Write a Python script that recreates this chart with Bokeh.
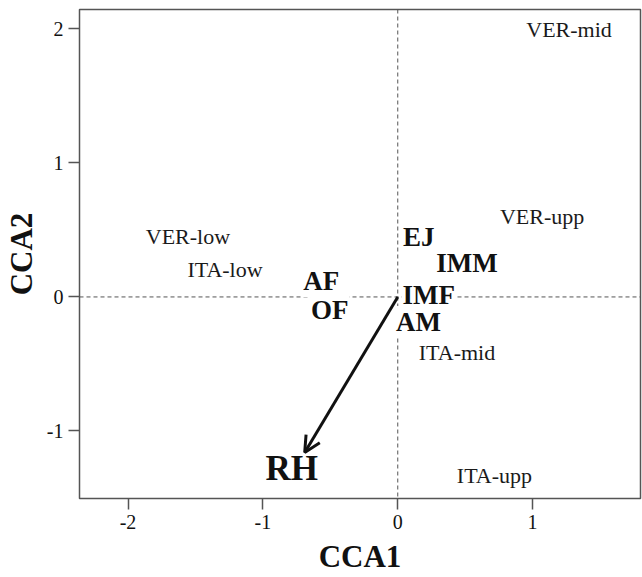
from bokeh.plotting import figure
from bokeh.models import ColumnDataSource, Span, Arrow, OpenHead, FixedTicker, Range1d
from bokeh.core.properties import value
from bokeh.embed import file_html
from bokeh.resources import INLINE

# ---- data ----
sites = ["VER-mid", "VER-upp", "VER-low", "ITA-low", "ITA-mid", "ITA-upp"]
site_x = [1.27, 1.07, -1.556, -1.281, 0.439, 0.717]
site_y = [1.995, 0.60, 0.453, 0.204, -0.418, -1.33]

species = ["EJ", "IMM", "AF", "IMF", "OF", "AM"]
sp_x = [0.156, 0.513, -0.568, 0.23, -0.504, 0.154]
sp_y = [0.448, 0.254, 0.117, 0.013, -0.099, -0.187]

env = ["RH"]
env_x = [-0.69]      # arrow tip
env_y = [-1.16]
env_lab_x = [-0.786]
env_lab_y = [-1.281]

x_ticks = [-2, -1, 0, 1]
x_tick_labels = ["-2", "-1", "0", "1"]
y_ticks = [-1, 0, 1, 2]
y_tick_labels = ["-1", "0", "1", "2"]

FONT = "Liberation Serif"

p = figure(width=642, height=577,
           x_range=Range1d(-2.36, 1.80), y_range=Range1d(-1.504, 2.145),
           output_backend="svg", toolbar_location=None,
           min_border_left=79, min_border_right=2,
           min_border_top=9, min_border_bottom=79)

p.grid.visible = False
p.outline_line_color = "#555555"
p.outline_line_width = 1.5
p.background_fill_color = "white"
p.border_fill_color = "white"

for ax in (p.xaxis, p.yaxis):
    ax.axis_line_color = None
    ax.major_tick_out = 11
    ax.major_tick_in = 0
    ax.minor_tick_line_color = None
    ax.major_tick_line_color = "#555555"
    ax.major_tick_line_width = 1.5
    ax.major_label_text_font = FONT
    ax.major_label_text_font_size = "20px"
    ax.major_label_text_color = "#111111"
    ax.axis_label_text_font = FONT
    ax.axis_label_text_font_size = "31px"
    ax.axis_label_text_font_style = "bold"
    ax.axis_label_text_color = "#111111"

p.xaxis.ticker = FixedTicker(ticks=x_ticks)
p.yaxis.ticker = FixedTicker(ticks=y_ticks)
p.xaxis.major_label_overrides = dict(zip(x_ticks, x_tick_labels))
p.yaxis.major_label_overrides = dict(zip(y_ticks, y_tick_labels))
p.xaxis.axis_label = "CCA1"
p.yaxis.axis_label = "CCA2"
p.xaxis.major_label_standoff = 5
p.yaxis.major_label_standoff = 5
p.xaxis.axis_label_standoff = 7
p.yaxis.axis_label_standoff = 5

# dashed zero lines
p.add_layout(Span(location=0, dimension="width", line_color="#555555",
                  line_width=1, line_dash="4 3", level="underlay"))
p.add_layout(Span(location=0, dimension="height", line_color="#555555",
                  line_width=1, line_dash="4 3", level="underlay"))

site_src = ColumnDataSource(dict(x=site_x, y=site_y, t=sites))
sp_src = ColumnDataSource(dict(x=sp_x, y=sp_y, t=species))
env_src = ColumnDataSource(dict(x=env_lab_x, y=env_lab_y, t=env))

p.text(x="x", y="y", text="t", source=site_src, text_font=value(FONT),
       text_font_size="22px", text_color="#1a1a1a", text_align="center",
       text_baseline="middle", background_fill_color="white", padding=1)
p.text(x="x", y="y", text="t", source=sp_src, text_font=value(FONT),
       text_font_size="27px", text_font_style="bold", text_color="#111111",
       text_align="center", text_baseline="middle",
       background_fill_color="white", padding=1)
p.text(x="x", y="y", text="t", source=env_src, text_font=value(FONT),
       text_font_size="35px", text_font_style="bold", text_color="#111111",
       text_align="center", text_baseline="middle")

arrow_src = ColumnDataSource(dict(x0=[0.0] * len(env_x), y0=[0.0] * len(env_y),
                                  x1=env_x, y1=env_y))
p.add_layout(Arrow(end=OpenHead(size=16, line_width=3, line_color="#111111"),
                   x_start="x0", y_start="y0", x_end="x1", y_end="y1",
                   source=arrow_src, line_width=3, line_color="#111111"))

open("out.html", "w").write(file_html(p, INLINE))
